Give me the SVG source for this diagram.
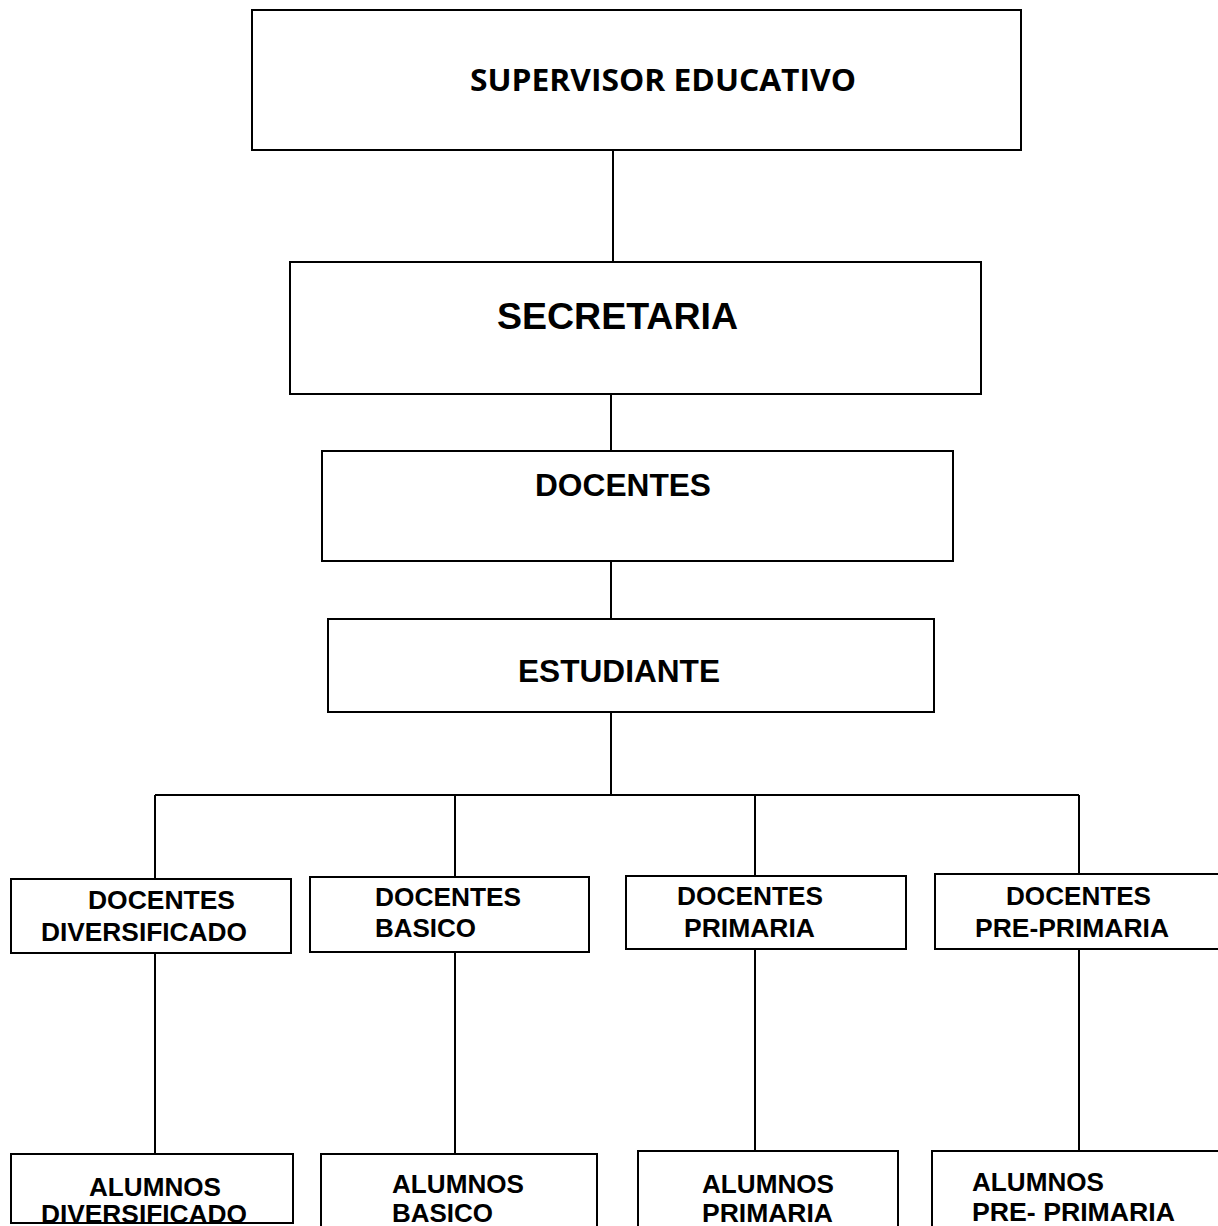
<svg xmlns="http://www.w3.org/2000/svg" width="1218" height="1226" viewBox="0 0 1218 1226">
<style>
.box{fill:#fff;stroke:#000;stroke-width:2}
.ln{stroke:#000;stroke-width:2;fill:none}
.t{font-family:"Liberation Sans",Arial,sans-serif;font-weight:bold;fill:#000}
.c{font-family:"Open Sans","Liberation Sans",sans-serif;font-weight:bold;fill:#000}
</style>
<rect width="1218" height="1226" fill="#fff"/>
<g id="connectors">
<path class="ln" d="M613 150V262M611 394V451M611 561V619M611 712V795M155 795H1079M155 795V879M455 795V877M755 795V876M1079 795V874M155 953V1154M455 952V1154M755 949V1151M1079 949V1151"/>
</g>
<g id="supervisor">
<rect class="box" x="252" y="10" width="769" height="140"/>
<text class="c" x="470" y="91" font-size="30" textLength="386" lengthAdjust="spacingAndGlyphs">SUPERVISOR EDUCATIVO</text>
</g>
<g id="secretaria">
<rect class="box" x="290" y="262" width="691" height="132"/>
<text class="t" x="497" y="329" font-size="36" textLength="241" lengthAdjust="spacingAndGlyphs">SECRETARIA</text>
</g>
<g id="docentes">
<rect class="box" x="322" y="451" width="631" height="110"/>
<text class="t" x="535" y="496" font-size="31" textLength="176" lengthAdjust="spacingAndGlyphs">DOCENTES</text>
</g>
<g id="estudiante">
<rect class="box" x="328" y="619" width="606" height="93"/>
<text class="t" x="518" y="682" font-size="31" textLength="202" lengthAdjust="spacingAndGlyphs">ESTUDIANTE</text>
</g>
<g id="docentes-diversificado">
<rect class="box" x="11" y="879" width="280" height="74"/>
<text class="t" x="88" y="909" font-size="25" textLength="147" lengthAdjust="spacingAndGlyphs">DOCENTES</text>
<text class="t" x="41" y="941" font-size="25" textLength="206" lengthAdjust="spacingAndGlyphs">DIVERSIFICADO</text>
</g>
<g id="docentes-basico">
<rect class="box" x="310" y="877" width="279" height="75"/>
<text class="t" x="375" y="906" font-size="25" textLength="146" lengthAdjust="spacingAndGlyphs">DOCENTES</text>
<text class="t" x="375" y="937" font-size="25" textLength="101" lengthAdjust="spacingAndGlyphs">BASICO</text>
</g>
<g id="docentes-primaria">
<rect class="box" x="626" y="876" width="280" height="73"/>
<text class="t" x="677" y="905" font-size="25" textLength="146" lengthAdjust="spacingAndGlyphs">DOCENTES</text>
<text class="t" x="684" y="937" font-size="25" textLength="131" lengthAdjust="spacingAndGlyphs">PRIMARIA</text>
</g>
<g id="docentes-pre-primaria">
<rect class="box" x="935" y="874" width="290" height="75"/>
<text class="t" x="1006" y="905" font-size="25" textLength="145" lengthAdjust="spacingAndGlyphs">DOCENTES</text>
<text class="t" x="975" y="937" font-size="25" textLength="194" lengthAdjust="spacingAndGlyphs">PRE-PRIMARIA</text>
</g>
<g id="alumnos-diversificado">
<rect class="box" x="11" y="1154" width="282" height="69"/>
<text class="t" x="89" y="1196" font-size="25" textLength="132" lengthAdjust="spacingAndGlyphs">ALUMNOS</text>
<text class="t" x="41" y="1223" font-size="25" textLength="206" lengthAdjust="spacingAndGlyphs">DIVERSIFICADO</text>
</g>
<g id="alumnos-basico">
<rect class="box" x="321" y="1154" width="276" height="80"/>
<text class="t" x="392" y="1193" font-size="25" textLength="132" lengthAdjust="spacingAndGlyphs">ALUMNOS</text>
<text class="t" x="392" y="1222" font-size="25" textLength="101" lengthAdjust="spacingAndGlyphs">BASICO</text>
</g>
<g id="alumnos-primaria">
<rect class="box" x="638" y="1151" width="260" height="80"/>
<text class="t" x="702" y="1193" font-size="25" textLength="132" lengthAdjust="spacingAndGlyphs">ALUMNOS</text>
<text class="t" x="702" y="1222" font-size="25" textLength="131" lengthAdjust="spacingAndGlyphs">PRIMARIA</text>
</g>
<g id="alumnos-pre-primaria">
<rect class="box" x="932" y="1151" width="295" height="80"/>
<text class="t" x="972" y="1191" font-size="25" textLength="132" lengthAdjust="spacingAndGlyphs">ALUMNOS</text>
<text class="t" x="972" y="1221" font-size="25" textLength="203" lengthAdjust="spacingAndGlyphs">PRE- PRIMARIA</text>
</g>
</svg>
